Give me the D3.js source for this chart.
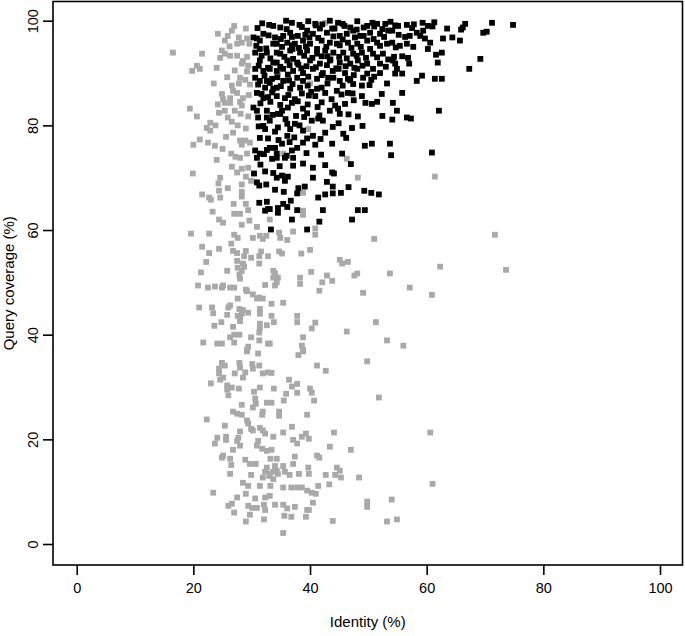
<!DOCTYPE html>
<html>
<head>
<meta charset="utf-8">
<script src="https://cdn.jsdelivr.net/npm/d3@7"></script>
<style>
  body { margin: 0; background: #fff; }
  svg { display: block; font-family: "Liberation Sans", Arial, Helvetica, sans-serif; }
</style>
</head>
<body>
<svg id="chart" width="685" height="636"></svg>
<script>
const xTicks = [0, 20, 40, 60, 80, 100]
const yTicks = [0, 20, 40, 60, 80, 100]
const xTitle = 'Identity (%)'
const yTitle = 'Query coverage (%)'

// hits that fail the filter (grey): [identity, query coverage]
const lowHits = [
  [61.4,70.2],[71.7,59.1],[62.3,53.0],[73.6,52.4],[53.7,51.7],[57.1,49.0],[60.9,47.6],[56.0,37.9],
  [60.6,21.3],[61.0,11.5],[54.0,8.5],[54.9,4.7],
  [38.0,36.1],[38.8,36.8],[41.2,34.1],[42.7,33.1],[49.8,34.9],[51.8,28.0],[33.4,32.7],[33.8,29.7],
  [36.4,31.4],[36.9,30.1],[37.8,30.6],[35.9,28.7],[35.5,27.4],[33.4,27.0],[37.8,28.9],[40.0,29.7],
  [40.3,28.9],[40.7,27.4],[34.7,25.3],[34.7,24.5],[39.5,24.7],[36.9,22.4],[35.4,21.3],[33.7,20.5],
  [37.1,19.9],[37.8,19.2],[38.6,20.5],[39.3,21.1],[39.8,20.1],[44.1,21.3],[43.4,18.6],[47.0,18.0],
  [37.4,16.7],[33.4,18.0],[34.3,16.3],[41.2,16.9],[41.6,16.5],[37.1,15.3],[35.4,14.9],[34.0,14.9],
  [35.7,13.8],[36.5,13.2],[34.5,13.4],[33.1,13.4],[39.7,14.6],[39.8,13.4],[38.1,13.4],[42.7,13.2],
  [44.3,13.2],[44.6,14.6],[45.1,14.0],[45.3,12.7],[48.4,12.7],[43.3,11.4],[41.4,11.1],[35.4,10.8],
  [36.8,10.8],[37.8,10.8],[38.6,10.8],[39.5,10.2],[40.3,9.8],[41.0,9.6],[33.1,9.2],[40.5,7.9],
  [34.0,7.5],[35.4,7.5],[36.1,6.8],[37.4,7.1],[39.5,6.5],[39.8,6.5],[39.3,5.2],[35.6,5.4],
  [36.8,5.2],[43.9,4.4],[49.8,8.1],[49.8,7.1],[53.2,4.3],[35.4,2.1],
  [29.2,36.8],[31.1,36.4],[24.9,34.6],[25.4,34.1],[24.4,33.5],[24.4,32.6],[25.1,31.8],[24.6,31.4],
  [27.9,34.6],[28.0,33.7],[27.1,32.6],[28.9,32.8],[28.5,31.8],[30.1,34.4],[30.2,33.5],[31.3,34.1],
  [31.9,32.6],[32.8,32.8],[23.0,30.7],[25.8,30.3],[25.8,29.5],[26.6,29.9],[27.8,29.7],[26.0,28.4],
  [30.4,29.1],[31.4,29.9],[30.6,27.8],[30.7,26.8],[30.2,26.1],[28.3,26.6],[32.6,27.0],[26.8,25.3],
  [27.5,24.9],[28.3,24.7],[31.9,25.3],[31.8,24.7],[22.3,23.8],[29.2,23.6],[29.4,23.0],[25.4,22.6],
  [28.0,21.5],[29.9,22.0],[30.2,21.7],[31.4,22.2],[31.9,21.7],[32.3,21.1],[24.1,20.3],[25.6,20.5],
  [27.7,20.3],[23.7,19.2],[25.6,19.9],[27.5,19.7],[31.1,19.7],[28.0,18.8],[30.9,18.8],[31.8,18.2],
  [32.6,17.8],[26.8,18.0],[25.1,16.9],[24.9,16.5],[26.3,16.3],[28.9,16.1],[29.7,15.3],[30.7,15.3],
  [33.2,16.3],[26.5,15.1],[32.6,14.6],[32.3,13.8],[34.3,14.0],[33.7,13.8],[26.3,13.4],[29.9,13.2],
  [33.0,13.0],[33.7,12.4],[31.9,12.7],[28.5,11.7],[29.4,11.1],[31.4,11.1],[33.2,11.1],[23.4,9.8],
  [29.0,9.6],[30.6,8.7],[27.5,8.9],[32.3,8.9],[26.6,7.7],[26.0,7.3],[27.0,6.0],[29.4,7.3],
  [30.1,6.9],[30.9,6.9],[32.1,7.5],[29.7,5.6],[29.0,4.3],[32.1,4.7],[32.3,6.5],
  [48.2,70.0],[38.8,67.1],[38.8,63.7],[38.8,62.9],[37.1,59.7],[40.9,60.3],[40.9,59.1],[34.7,59.5],
  [34.9,58.5],[36.1,58.1],[51.0,58.3],[34.7,55.9],[35.2,55.5],[38.5,55.5],[40.0,56.2],[45.1,54.3],
  [45.5,53.6],[46.5,53.9],[33.7,52.2],[33.7,50.9],[34.5,50.9],[34.0,49.4],[34.3,50.0],[38.3,50.9],
  [38.3,49.7],[40.2,52.0],[42.1,50.0],[42.9,51.3],[43.8,50.3],[41.6,48.4],[47.6,51.3],[48.1,51.7],
  [49.1,48.0],[35.4,46.1],[33.4,45.9],[33.4,43.6],[33.8,42.4],[37.8,43.6],[37.8,42.4],[40.9,42.3],
  [40.3,41.2],[46.3,40.6],[51.3,42.4],[38.8,39.5],[53.2,38.9],[38.6,37.9],[38.8,37.1],[33.1,38.3],
  [19.9,70.8],[24.3,68.9],[24.4,67.5],[28.3,68.7],[28.3,67.3],[29.9,69.4],[22.7,66.2],[23.0,65.8],
  [24.6,66.2],[28.3,66.4],[29.0,65.0],[29.4,63.8],[27.0,63.1],[28.0,63.1],[24.4,62.0],[25.1,61.4],
  [28.3,61.0],[30.9,60.6],[33.1,62.0],[19.6,59.3],[22.7,59.3],[27.0,59.1],[27.6,58.5],[30.2,58.5],
  [31.4,58.9],[31.9,58.3],[32.5,58.9],[21.5,56.8],[26.5,57.4],[24.4,56.4],[22.7,55.6],[26.8,56.0],
  [27.5,55.6],[29.0,56.0],[28.7,55.0],[29.9,54.7],[31.3,55.0],[32.8,55.0],[31.6,55.9],[22.2,53.9],
  [27.5,54.1],[28.5,53.6],[31.3,53.6],[27.6,52.8],[28.7,53.0],[28.3,52.2],[21.3,51.9],[25.8,52.2],
  [27.9,51.5],[28.0,50.7],[34.0,51.7],[20.8,49.4],[22.5,49.0],[23.7,49.2],[24.9,49.0],[25.1,49.4],
  [26.3,49.0],[27.0,49.0],[32.3,49.5],[29.0,48.6],[29.2,48.3],[30.2,47.7],[30.9,46.9],[31.3,47.1],
  [31.9,46.9],[27.6,46.9],[21.0,45.2],[23.2,45.2],[23.4,44.1],[26.3,45.6],[26.0,45.2],[25.8,43.8],
  [27.9,44.9],[28.5,44.7],[29.4,44.2],[31.4,44.9],[27.6,43.6],[28.0,43.3],[28.3,44.0],[31.4,44.0],
  [24.8,42.4],[23.6,41.7],[28.0,42.6],[26.8,41.5],[31.4,42.1],[32.6,41.8],[31.4,41.3],[31.3,40.4],
  [27.0,40.0],[27.9,40.0],[26.3,39.5],[29.9,39.5],[21.7,38.5],[24.1,38.3],[24.9,38.3],[27.0,38.5],
  [31.3,38.9],[32.8,38.3],[29.2,37.1],[29.4,37.7],
  [16.5,93.9],[21.5,93.7],[19.8,90.4],[20.6,91.4],[21.1,90.8],[26.6,98.1],[25.9,97.1],[25.4,96.2],
  [27.8,96.8],[28.3,95.8],[27.5,95.6],[29.2,96.6],[29.6,95.6],[24.9,94.3],[25.4,93.7],[24.6,92.9],
  [26.3,93.3],[27.5,93.3],[28.5,92.3],[29.2,93.1],[28.3,91.8],[29.4,91.4],[29.2,90.3],[28.0,89.1],
  [28.9,88.7],[29.7,87.8],[26.6,87.6],[26.8,86.6],[27.5,86.2],[24.9,86.0],[25.1,85.0],[25.4,84.3],
  [26.3,85.2],[26.3,84.3],[28.0,84.5],[28.5,85.2],[28.3,83.8],[19.4,83.2],[20.6,81.7],[24.4,82.4],
  [25.4,82.8],[25.9,81.5],[26.6,80.7],[28.1,82.2],[29.4,81.7],[22.9,80.5],[22.3,79.5],[22.9,79.0],
  [22.5,76.7],[23.7,76.1],[20.0,76.3],[21.1,77.3],[25.6,77.8],[26.8,78.6],[28.0,77.1],[28.9,77.1],
  [28.3,76.3],[29.7,76.7],[26.5,74.6],[27.2,74.0],[28.0,73.8],[29.2,74.6],[28.3,71.7],[26.6,72.1],
  [29.4,71.9],[24.6,70.0],[29.0,70.2],
  [42.6,99.6],[34.5,90.0],[40.0,88.0],[39.7,79.3],[35.4,74.6],[46.3,73.6],
  [27.0,99.0],[24.2,97.5],[26.2,95.1],[29.0,98.5],[24.0,91.0],[27.1,90.5],[25.8,89.2],[23.5,88.0],
  [27.8,88.0],[24.2,84.0],[29.5,85.8],[27.1,82.8],[23.8,80.0],[27.6,80.0],[29.0,79.4],[25.0,75.5],
  [24.0,73.4],[27.5,71.0],[25.9,68.0],[26.9,65.0],[23.3,63.5],[29.6,61.8],[21.5,66.8]
]

// hits that pass the filter (black)
const highHits = [
  [55.1,99.0],[56.6,99.2],[59.3,99.6],[60.2,99.0],[66.6,99.4],[66.2,98.7],[65.9,98.3],[71.2,99.6],
  [74.8,99.2],[69.7,97.7],[70.3,97.9],[58.3,97.7],[58.9,97.1],[59.4,98.1],[59.7,96.6],[60.6,95.8],
  [60.2,94.6],[57.1,97.1],[56.3,96.9],[56.6,95.6],[55.4,95.2],[54.1,98.1],[54.1,95.8],[62.8,96.6],
  [64.4,96.8],[65.7,96.2],[61.6,93.5],[62.6,93.9],[61.9,92.0],[54.4,93.1],[56.8,92.9],[57.0,91.8],
  [54.6,91.8],[54.9,90.8],[54.6,89.9],[55.8,89.9],[69.2,92.7],[67.3,90.8],[58.3,88.5],[59.2,89.5],
  [61.4,88.9],[62.6,88.9],[55.8,86.2],[54.2,84.3],[54.9,82.8],[54.1,81.1],[56.6,81.5],[57.3,81.3],
  [62.1,82.8],[53.9,74.3],[60.9,74.8],
  [30.4,70.8],[32.3,71.2],[30.9,69.1],[31.3,68.5],[32.5,68.7],[34.0,67.7],[31.3,65.2],[32.6,65.4],
  [32.3,63.7],[32.8,64.0],[34.5,63.3],[33.3,60.1],
  [33.7,70.9],[35.2,70.4],[36.2,70.2],[35.7,69.4],[40.5,70.0],[44.1,70.8],[35.5,67.3],[37.8,67.0],
  [39.1,68.3],[42.9,69.2],[43.9,68.3],[43.9,67.0],[45.3,67.1],[42.6,66.8],[41.4,66.2],[49.3,67.5],
  [50.5,67.1],[51.8,66.8],[36.7,65.6],[35.4,65.0],[36.1,64.4],[34.5,64.2],[37.8,63.8],[33.1,64.0],
  [42.2,63.8],[48.2,63.8],[49.4,63.8],[36.9,62.0],[41.6,61.6],[47.2,62.0],[39.5,60.1],
  [33.7,99.0],[32.0,97.5],[30.3,96.8],[31.4,96.2],[34.0,96.8],[33.7,95.6],[31.4,94.6],[32.6,93.9],
  [30.6,93.9],[34.3,93.9],[31.4,92.4],[33.7,92.0],[30.6,90.8],[32.0,90.4],[34.3,90.4],[30.6,89.1],
  [31.4,88.5],[32.6,88.5],[33.5,88.9],[32.3,87.2],[33.7,87.0],[30.9,86.2],[32.0,85.2],[32.8,85.4],
  [30.3,83.4],[30.9,82.8],[32.6,82.8],[31.1,81.5],[32.6,81.5],[34.5,82.2],[32.0,79.9],[32.3,79.3],
  [31.4,77.6],[30.6,75.2],[31.4,74.6],[30.9,73.8],[32.6,75.3],[34.0,75.7],[34.3,73.8],[34.3,70.0],
  [34.9,98.7],[36.9,99.6],[40.9,99.4],[44.8,99.6],[46.9,98.7],[49.8,99.0],[52.9,99.4],[51.5,99.4],
  [35.4,97.1],[36.6,97.7],[37.9,97.1],[39.5,98.1],[40.5,97.5],[41.7,98.5],[42.9,97.7],[43.8,98.5],
  [45.1,97.1],[46.3,97.5],[47.4,98.1],[48.6,97.1],[50.3,97.7],[52.0,97.5],[53.4,98.1],[34.3,95.6],
  [36.1,95.8],[37.4,95.6],[38.8,96.2],[40.0,95.6],[42.0,96.2],[43.4,95.8],[44.6,95.6],[46.5,95.8],
  [48.1,95.6],[49.8,96.2],[51.5,95.8],[53.2,95.6],[34.9,93.7],[36.6,94.3],[38.3,93.9],[39.5,94.3],
  [41.2,93.7],[42.6,94.3],[44.0,93.9],[45.7,93.9],[47.4,93.7],[48.9,93.9],[50.8,93.7],[52.5,93.7],
  [34.3,92.0],[36.1,92.4],[37.8,92.0],[40.0,92.4],[41.7,91.8],[43.4,92.4],[45.1,92.0],[46.9,91.8],
  [48.2,92.4],[49.8,91.8],[52.0,91.8],[54.2,92.4],[33.1,90.8],[35.4,90.8],[37.1,90.4],[38.8,90.0],
  [40.5,90.8],[42.2,90.0],[43.9,90.4],[46.0,90.0],[48.1,90.8],[49.8,89.9],[52.0,90.0],[35.4,88.5],
  [37.8,89.1],[38.8,88.5],[41.2,88.9],[43.1,89.1],[45.1,88.5],[46.5,88.9],[49.1,89.1],[34.3,87.2],
  [36.6,87.0],[38.3,87.2],[41.2,87.0],[42.0,87.2],[44.6,86.6],[46.5,86.2],[48.9,87.6],[34.3,85.6],
  [35.7,85.2],[37.4,85.0],[40.9,85.6],[48.9,85.6],[38.8,83.2],[35.2,82.8],[36.2,83.4],[43.4,82.8],
  [44.3,83.8],[44.8,83.2],[45.1,82.2],[50.6,84.1],[51.5,84.5],[48.2,81.7],[33.1,80.9],[34.9,82.2],
  [36.1,80.3],[37.4,80.3],[36.6,79.3],[40.3,80.9],[41.4,81.3],[42.2,80.9],[42.6,78.6],[47.2,79.5],
  [45.7,78.4],[36.1,78.0],[38.8,79.0],[33.1,75.7],[35.2,76.5],[38.8,76.7],[39.5,77.5],[40.5,78.0],
  [37.8,75.7],[36.9,75.2],[43.8,76.5],[49.4,76.1],[50.6,76.5],[53.7,76.5],[34.3,74.6],[33.5,73.6],
  [35.7,73.8],[37.1,73.8],[37.1,72.3],[40.5,71.9],[43.8,71.0],
  // dense top band, between the rows above
  [31.8,99.5],[35.9,100.0],[38.2,99.2],[39.7,99.9],[42.1,99.3],[43.4,100.0],[45.6,99.4],[48.1,99.9],
  [50.7,99.6],[53.8,99.8],[57.8,99.3],[61.3,99.7],
  [31.0,98.6],[33.0,99.2],[36.0,98.4],[38.6,98.8],[41.0,99.1],[44.2,98.5],[45.9,99.0],[48.0,98.3],
  [49.2,98.7],[51.0,98.9],[52.4,98.4],[54.6,99.1],[57.5,98.6],[61.0,98.9],[63.5,98.5],
  [30.9,96.6],[32.9,97.2],[35.0,96.5],[36.9,96.9],[39.2,97.3],[41.4,96.7],[44.0,97.0],[45.6,96.4],
  [47.7,96.8],[49.2,97.1],[50.9,96.5],[52.7,96.9],[55.2,97.3],
  [30.8,95.2],[32.5,94.7],[35.2,95.0],[36.9,95.3],[38.1,94.8],[39.3,95.1],[41.2,94.6],[42.8,95.0],
  [45.1,95.3],[47.1,94.8],[48.7,95.0],[50.3,94.6],[52.0,95.2],[54.7,94.9],[57.7,95.0],
  [31.7,93.3],[33.2,92.8],[35.6,93.1],[37.1,92.7],[39.0,93.3],[40.4,92.9],[42.0,93.2],[43.5,92.6],
  [45.0,93.1],[46.3,92.8],[48.0,93.3],[49.6,92.9],[51.5,93.0],[53.4,92.6],[55.8,93.2],
  [31.2,91.4],[32.8,91.0],[34.9,91.2],[36.5,91.5],[38.5,90.9],[39.4,91.3],[41.0,91.1],[42.9,91.5],
  [44.5,90.9],[46.1,91.3],[47.6,91.0],[49.0,91.4],[50.8,90.8],[53.0,91.2],
  [32.2,89.5],[34.4,89.2],[36.2,89.7],[39.7,89.3],[42.0,89.6],[44.0,89.1],[47.5,89.6],[51.0,89.3],
  [31.1,87.8],[33.1,88.1],[35.0,87.5],[37.0,87.9],[39.6,87.6],[43.0,88.0],[45.6,87.6],[47.4,87.9],
  [50.2,87.7],
  [31.7,86.0],[33.5,86.3],[36.3,85.8],[38.6,86.1],[39.8,85.7],[42.6,86.2],[45.4,85.9],[47.3,86.1],
  [52.3,86.0],
  [31.5,84.2],[33.2,84.5],[34.9,83.9],[36.9,84.3],[39.6,84.0],[42.0,84.4],[46.0,84.1],[49.5,84.3],
  [33.6,82.0],[37.6,81.8],[39.5,82.3],[41.6,81.9],[46.6,82.1],[52.4,81.8],
  [31.2,79.8],[34.5,79.6],[38.2,80.0],[43.9,79.7],[49.0,79.9],
  [32.8,77.5],[34.6,77.2],[37.3,77.7],[41.8,77.4],[46.2,77.6],
  [32.1,74.5],[36.0,74.2],[39.4,74.7],[41.9,74.4],[45.5,74.6],
  [31.5,72.5],[34.8,72.2],[38.8,72.7],[42.6,72.4],[47.0,72.6],
  [38.0,68.0],[46.6,68.2],
  [37.0,94.6],[39.9,96.8],[43.0,93.2],[38.0,91.6],[44.9,90.8],[36.4,88.6],[40.2,86.4],[37.9,84.6],
  [43.7,85.0],[41.3,83.5],[35.8,81.2],[39.0,81.6],[44.9,80.4],[34.0,78.8],[40.9,76.3],[36.5,76.8],
  [47.5,84.8],[46.9,88.6],[50.5,88.7],[53.2,88.0]
]

const svg = d3.select('#chart')

const x = d3.scaleLinear().domain([0, 100]).range([76.7, 660])
const y = d3.scaleLinear().domain([0, 100]).range([544, 20.7])

const frame = { left: 53, top: 1.5, right: 682.5, bottom: 565 }
const size = 5.8

// points: grey first, black drawn over them
svg.append('g')
  .selectAll('rect')
  .data(lowHits)
  .join('rect')
  .attr('x', d => x(d[0]) - size / 2)
  .attr('y', d => y(d[1]) - size / 2)
  .attr('width', size)
  .attr('height', size)
  .attr('fill', '#a9a9a9')

svg.append('g')
  .selectAll('rect')
  .data(highHits)
  .join('rect')
  .attr('x', d => x(d[0]) - size / 2)
  .attr('y', d => y(d[1]) - size / 2)
  .attr('width', size)
  .attr('height', size)
  .attr('fill', '#000')

// box round the plot
svg.append('rect')
  .attr('x', frame.left)
  .attr('y', frame.top)
  .attr('width', frame.right - frame.left)
  .attr('height', frame.bottom - frame.top)
  .attr('fill', 'none')
  .attr('stroke', '#000')
  .attr('stroke-width', 1.6)

const xAxis = svg.append('g')
  .attr('transform', `translate(0,${frame.bottom})`)
  .call(d3.axisBottom(x).tickValues(xTicks).tickSize(10).tickSizeOuter(0).tickPadding(8))
xAxis.select('.domain').remove()
xAxis.selectAll('line').attr('stroke-width', 1.6)
xAxis.selectAll('text').attr('font-size', 14.5).attr('fill', '#000')
  .attr('font-family', '"Liberation Sans", Arial, sans-serif')

const yAxis = svg.append('g')
  .attr('transform', `translate(${frame.left},0)`)
  .call(d3.axisLeft(y).tickValues(yTicks).tickSize(10).tickSizeOuter(0))
yAxis.select('.domain').remove()
yAxis.selectAll('line').attr('stroke-width', 1.6)
// R style: labels parallel to the axis
yAxis.selectAll('text')
  .attr('transform', 'rotate(-90)')
  .attr('x', 0)
  .attr('y', -15)
  .attr('dy', 0)
  .attr('text-anchor', 'middle')
  .attr('font-size', 14.5)
  .attr('fill', '#000')
  .attr('font-family', '"Liberation Sans", Arial, sans-serif')

svg.append('text')
  .attr('x', (frame.left + frame.right) / 2)
  .attr('y', 627)
  .attr('text-anchor', 'middle')
  .attr('font-size', 15)
  .text(xTitle)

svg.append('text')
  .attr('transform', `translate(14,${(frame.top + frame.bottom) / 2}) rotate(-90)`)
  .attr('text-anchor', 'middle')
  .attr('font-size', 15)
  .text(yTitle)
</script>
</body>
</html>
